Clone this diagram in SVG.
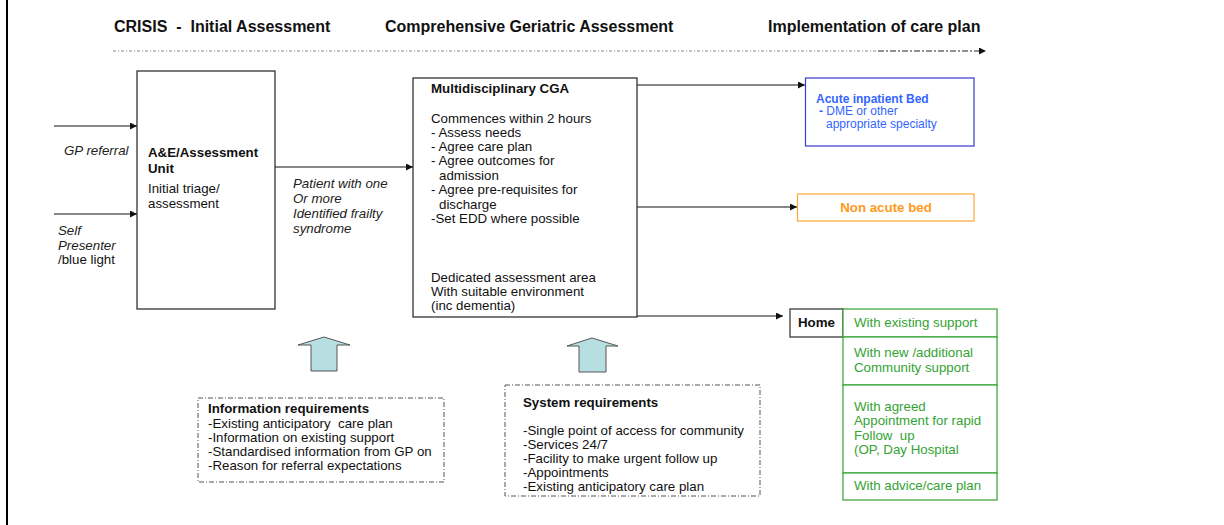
<svg xmlns="http://www.w3.org/2000/svg" width="1224" height="525" viewBox="0 0 1224 525">
<style>
text{font-family:"Liberation Sans",Arial,sans-serif;font-size:13.3px;fill:#111}
.b{font-weight:bold}
.h{font-weight:bold;font-size:16px;white-space:pre}
.i{font-style:italic;fill:#222}
.box{fill:#fff;stroke:#222;stroke-width:1.2}
.dd{fill:none;stroke:#555;stroke-width:1;stroke-dasharray:5 2 1 2}
.conn{stroke:#111;stroke-width:1.2;fill:none}
.blk{fill:#b7dfe1;stroke:#555;stroke-width:1}
.g{fill:#33a333}
.gb{fill:#fff;stroke:#33a333;stroke-width:1.2}
.bl{fill:#3366ff;font-size:12px}
</style>
<defs>
<marker id="ah" viewBox="0 0 10 10" refX="10" refY="5" markerWidth="8" markerHeight="7" markerUnits="userSpaceOnUse" orient="auto">
<path d="M0,0 L10,5 L0,10 z" fill="#111"/>
</marker>
</defs>
<rect x="0" y="0" width="1224" height="525" fill="#fff"/>
<rect x="6" y="0" width="2" height="525" fill="#000"/>

<g id="header">
<text class="h" x="114" y="32">CRISIS  -  Initial Assessment</text>
<text class="h" x="385" y="32">Comprehensive Geriatric Assessment</text>
<text class="h" x="768" y="32">Implementation of care plan</text>
</g>

<g id="connectors">
<line x1="113" y1="51" x2="878" y2="51" stroke="#888" stroke-width="1" stroke-dasharray="3 2 1 2"/>
<line x1="878" y1="51" x2="986" y2="51" stroke="#222" stroke-width="1.2" stroke-dasharray="6 2 2 2" marker-end="url(#ah)"/>
<line class="conn" x1="54" y1="126" x2="137" y2="126" marker-end="url(#ah)"/>
<line class="conn" x1="54" y1="214" x2="137" y2="214" marker-end="url(#ah)"/>
<line class="conn" x1="275" y1="167" x2="413" y2="167" marker-end="url(#ah)"/>
<line class="conn" x1="637" y1="85" x2="805" y2="85" marker-end="url(#ah)"/>
<line class="conn" x1="637" y1="207" x2="797" y2="207" marker-end="url(#ah)"/>
<line class="conn" x1="637" y1="316" x2="783" y2="316" marker-end="url(#ah)"/>
</g>

<g id="labels">
<text class="i" x="64" y="155">GP referral</text>
<text class="i" x="58" y="235">Self</text>
<text class="i" x="58" y="250">Presenter</text>
<text x="58" y="264" fill="#222">/blue light</text>
<text class="i" x="293" y="188">Patient with one</text>
<text class="i" x="293" y="203">Or more</text>
<text class="i" x="293" y="218">Identified frailty</text>
<text class="i" x="293" y="233">syndrome</text>
</g>

<g id="ae-unit">
<rect class="box" x="137" y="71" width="138" height="238"/>
<text class="b" x="148" y="157">A&amp;E/Assessment</text>
<text class="b" x="148" y="173">Unit</text>
<text x="148" y="193">Initial triage/</text>
<text x="148" y="208">assessment</text>
</g>

<g id="cga">
<rect class="box" x="413" y="78" width="224" height="239"/>
<text class="b" x="431" y="93">Multidisciplinary CGA</text>
<text x="431" y="123">Commences within 2 hours</text>
<text x="431" y="137">- Assess needs</text>
<text x="431" y="151">- Agree care plan</text>
<text x="431" y="165">- Agree outcomes for</text>
<text x="439" y="180">admission</text>
<text x="431" y="194">- Agree pre-requisites for</text>
<text x="439" y="209">discharge</text>
<text x="431" y="223">-Set EDD where possible</text>
<text x="431" y="282">Dedicated assessment area</text>
<text x="431" y="296">With suitable environment</text>
<text x="431" y="310">(inc dementia)</text>
</g>

<g id="acute-bed">
<rect x="805.5" y="78" width="168.5" height="68" fill="#fff" stroke="#3a3ad0" stroke-width="1.2"/>
<text class="bl b" x="816" y="103">Acute inpatient Bed</text>
<text class="bl" x="819" y="115"><tspan font-weight="bold">-</tspan> DME or other</text>
<text class="bl" x="826" y="128">appropriate specialty</text>
</g>

<g id="non-acute-bed">
<rect x="797.5" y="194" width="176.5" height="27" fill="#fff" stroke="#ffa733" stroke-width="1.2"/>
<text class="b" x="886" y="212" text-anchor="middle" style="fill:#ff9a1a">Non acute bed</text>
</g>

<g id="home">
<rect x="790" y="309" width="53" height="28" fill="#fff" stroke="#555" stroke-width="1.5"/>
<text class="b" x="798" y="327">Home</text>
</g>

<g id="home-options">
<rect class="gb" x="843" y="309" width="154" height="28"/>
<rect class="gb" x="843" y="337" width="154" height="48"/>
<rect class="gb" x="843" y="385" width="154" height="88"/>
<rect class="gb" x="843" y="473" width="154" height="27"/>
<text class="g" x="854" y="327">With existing support</text>
<text class="g" x="854" y="357">With new /additional</text>
<text class="g" x="854" y="372">Community support</text>
<text class="g" x="854" y="411">With agreed</text>
<text class="g" x="854" y="425">Appointment for rapid</text>
<text class="g" x="854" y="440" style="white-space:pre">Follow  up</text>
<text class="g" x="854" y="454">(OP, Day Hospital</text>
<text class="g" x="854" y="490">With advice/care plan</text>
</g>

<g id="info-arrow">
<polygon class="blk" points="324,337 350,345 337,345 337,371 311,371 311,345 298,345"/>
</g>
<g id="system-arrow">
<polygon class="blk" points="592,338 618,346 606,346 606,372 579,372 579,346 567,346"/>
</g>

<g id="information-requirements">
<rect class="dd" x="198" y="398" width="246" height="84"/>
<text class="b" x="208" y="413">Information requirements</text>
<text x="208" y="428" style="white-space:pre">-Existing anticipatory  care plan</text>
<text x="208" y="442">-Information on existing support</text>
<text x="208" y="456">-Standardised information from GP on</text>
<text x="208" y="470">-Reason for referral expectations</text>
</g>

<g id="system-requirements">
<rect class="dd" x="505" y="385" width="255" height="111"/>
<text class="b" x="523" y="407">System requirements</text>
<text x="523" y="435">-Single point of access for community</text>
<text x="523" y="449">-Services 24/7</text>
<text x="523" y="463">-Facility to make urgent follow up</text>
<text x="523" y="477">-Appointments</text>
<text x="523" y="491">-Existing anticipatory care plan</text>
</g>
</svg>
